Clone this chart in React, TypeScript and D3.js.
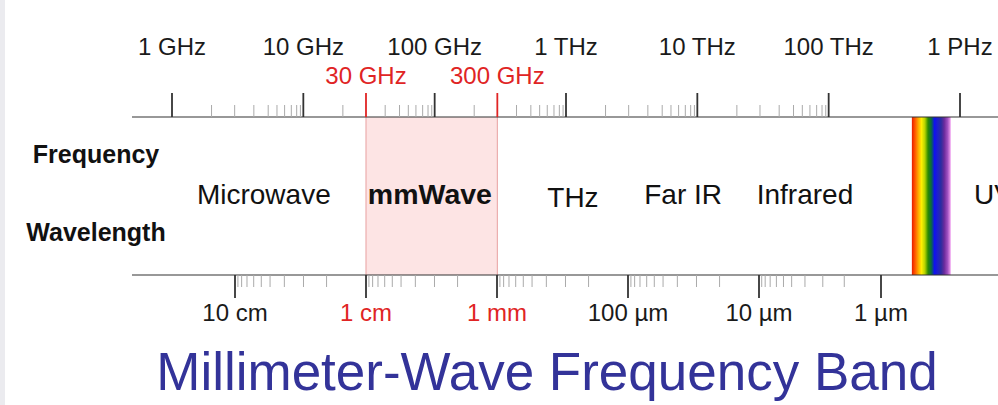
import React from 'react';
import * as d3 from 'd3';

// ---- data ----
const freqMajorTicks = [1e9, 1e10, 1e11, 1e12, 1e13, 1e14, 1e15];
const freqMajorLabels = ['1 GHz', '10 GHz', '100 GHz', '1 THz', '10 THz', '100 THz', '1 PHz'];
const minorMultipliers = [2, 3, 4.2, 5.4, 6.3, 7.2, 8.1, 8.9, 9.5];
const freqMinorDecades = [1e9, 1e10, 1e11, 1e12, 1e13];
const bandEdges = [30e9, 300e9];
const bandEdgeLabels = ['30 GHz', '300 GHz'];
const waveMajorTicks = [0.1, 0.01, 0.001, 1e-4, 1e-5, 1e-6];
const waveMajorLabels = ['10 cm', '1 cm', '1 mm', '100 µm', '10 µm', '1 µm'];
const waveHighlight = [false, true, true, false, false, false];
const waveMinorDecades = [0.01, 0.001, 1e-4, 1e-5, 1e-6];
const regionNames = ['Microwave', 'mmWave', 'THz', 'Far IR', 'Infrared', 'UV'];
const regionCenters = [5e9, 92e9, 1.13e12, 7.8e12, 66e12, 1.8e15];
const regionBold = [false, true, false, false, false, false];
const visibleBand = [430e12, 850e12];
const spectrumColors = ['#e81c00', '#ff5a00', '#ffa800', '#ffef00', '#b8d400', '#2c8a00', '#0a6a40', '#1010f0', '#2020c8', '#2c2ca0', '#6a2a9c', '#a050c0', '#f0a0f0'];

const W = 998;
const H = 405;
const FONT = '"Liberation Sans", Arial, Helvetica, sans-serif';
const RED = '#e02424';

export default function App() {
  const axisLeft = 132;
  const topY = 117;
  const botY = 275;
  const majorLen = 24;
  const minorLen = 12;

  const fx = d3.scaleLog().domain([1e9, 1e15]).range([172, 960]);
  const wx = d3.scaleLog().domain([0.1, 1e-5, 1e-6]).range([235, 759, 881]);

  const freqMinor: number[] = [];
  freqMinorDecades.forEach((b) => {
    minorMultipliers.forEach((m) => {
      const v = b * m;
      if (bandEdges.some((e) => Math.abs(e - v) / e < 1e-6)) return;
      freqMinor.push(v);
    });
  });
  const waveMinor: number[] = [];
  waveMinorDecades.forEach((b) => {
    minorMultipliers.forEach((m) => waveMinor.push(b * m));
  });

  const bx0 = fx(bandEdges[0]);
  const bx1 = fx(bandEdges[1]);
  const vx0 = fx(visibleBand[0]);
  const vx1 = fx(visibleBand[1]);

  return (
    <svg width={W} height={H} style={{ position: 'absolute', left: 0, top: 0, background: '#fff' }} fontFamily={FONT}>
      <defs>
        <linearGradient id="spec" x1="0" x2="1" y1="0" y2="0">
          {spectrumColors.map((c, i) => (
            <stop key={i} offset={i / (spectrumColors.length - 1)} stopColor={c} />
          ))}
        </linearGradient>
      </defs>
      <rect x={0} y={0} width={W} height={H} fill="#fff" />
      <rect x={0} y={0} width={5} height={H} fill="#ebebef" />

      {/* mmWave band */}
      <rect x={bx0} y={topY} width={bx1 - bx0} height={botY - topY} fill="#fde4e4" />
      <line x1={bx0} x2={bx0} y1={topY} y2={botY} stroke="#e8a0a0" strokeWidth={1} />
      <line x1={bx1} x2={bx1} y1={topY} y2={botY} stroke="#e8a0a0" strokeWidth={1} />

      {/* visible spectrum */}
      <rect x={vx0} y={topY} width={vx1 - vx0} height={botY - topY} fill="url(#spec)" />

      {/* top axis */}
      <line x1={axisLeft} x2={W} y1={topY} y2={topY} stroke="#333" strokeWidth={1.2} />
      {freqMinor.map((v, i) => (
        <line key={'fm' + i} x1={fx(v)} x2={fx(v)} y1={topY - minorLen} y2={topY} stroke="#aaa" strokeWidth={1} />
      ))}
      {freqMajorTicks.map((v, i) => (
        <g key={'fM' + i}>
          <line x1={fx(v)} x2={fx(v)} y1={topY - majorLen} y2={topY} stroke="#333" strokeWidth={1.8} />
          <text x={fx(v)} y={55} textAnchor="middle" fontSize={24} fill="#1a1a1a">{freqMajorLabels[i]}</text>
        </g>
      ))}
      {bandEdges.map((v, i) => (
        <g key={'be' + i}>
          <line x1={fx(v)} x2={fx(v)} y1={topY - majorLen} y2={topY} stroke={RED} strokeWidth={1.8} />
          <text x={fx(v)} y={84} textAnchor="middle" fontSize={24} fill={RED}>{bandEdgeLabels[i]}</text>
        </g>
      ))}

      {/* bottom axis */}
      <line x1={axisLeft} x2={W} y1={botY} y2={botY} stroke="#333" strokeWidth={1.2} />
      {waveMinor.map((v, i) => (
        <line key={'wm' + i} x1={wx(v)} x2={wx(v)} y1={botY} y2={botY + minorLen} stroke="#aaa" strokeWidth={1} />
      ))}
      {waveMajorTicks.map((v, i) => (
        <g key={'wM' + i}>
          <line x1={wx(v)} x2={wx(v)} y1={botY} y2={botY + 23} stroke="#333" strokeWidth={1.8} />
          <text x={wx(v)} y={321} textAnchor="middle" fontSize={24} fill={waveHighlight[i] ? RED : '#1a1a1a'}>{waveMajorLabels[i]}</text>
        </g>
      ))}

      {/* axis names */}
      <text x={96} y={163} textAnchor="middle" fontSize={25} fontWeight="bold" fill="#111">Frequency</text>
      <text x={96} y={241} textAnchor="middle" fontSize={25} fontWeight="bold" fill="#111">Wavelength</text>

      {/* region names */}
      {regionNames.map((n, i) => (
        <text key={'r' + i} x={fx(regionCenters[i])} y={n === 'THz' ? 207 : 204} textAnchor="middle"
          fontSize={regionBold[i] ? 28.5 : 28}
          fontWeight={regionBold[i] ? 'bold' : 'normal'} fill="#111">{n}</text>
      ))}

      {/* title */}
      <text x={547} y={390} textAnchor="middle" fontSize={53} fill="#333399">Millimeter-Wave Frequency Band</text>
    </svg>
  );
}
